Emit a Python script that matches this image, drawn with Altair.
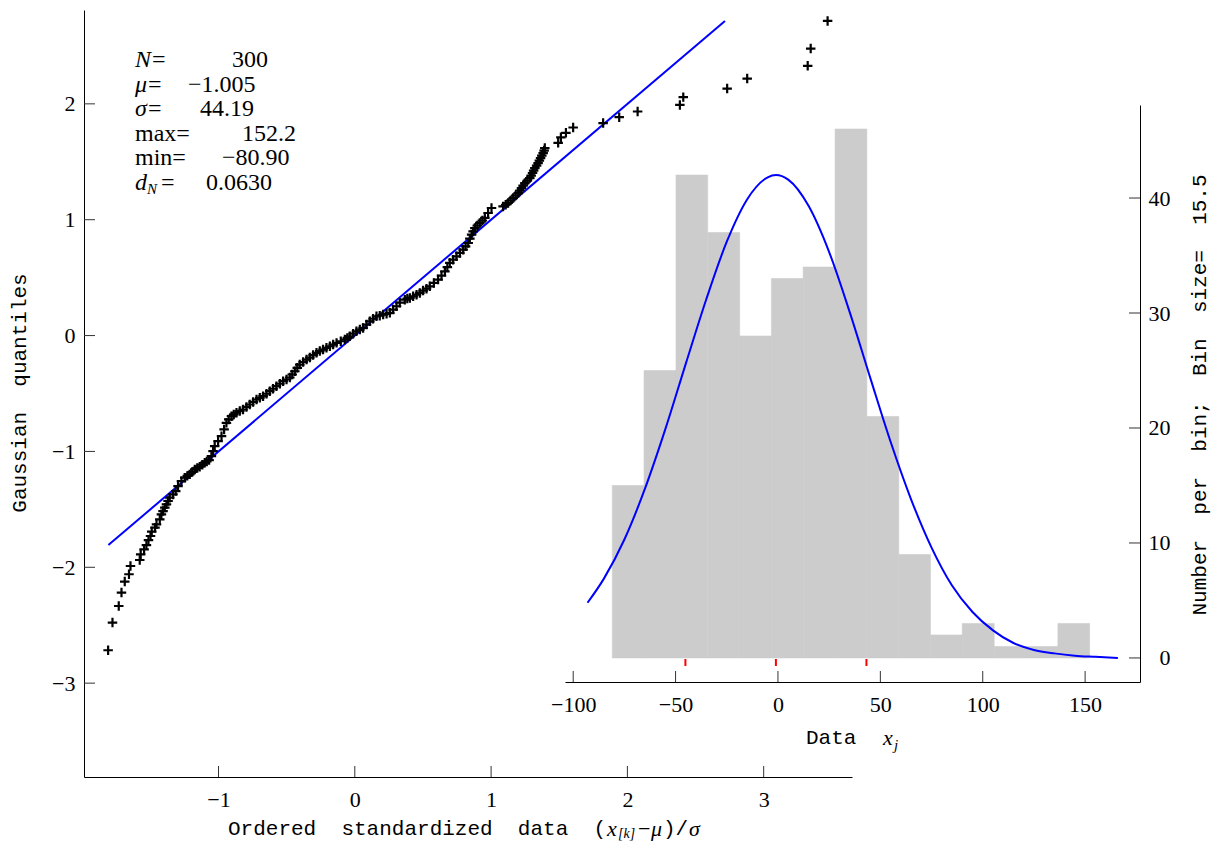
import altair as alt
import pandas as pd

# ---------------- data ----------------
# Q-Q plot: ordered standardized data (x) vs Gaussian quantiles (y)
qq_x = [-1.810, -1.778, -1.732, -1.712, -1.688, -1.657, -1.646, -1.578, -1.571, -1.546,
        -1.529, -1.514, -1.499, -1.490, -1.466, -1.455, -1.431, -1.419, -1.407, -1.394,
        -1.382, -1.370, -1.358, -1.334, -1.314, -1.297, -1.272, -1.248, -1.211, -1.174,
        -1.138, -1.101, -1.069, -1.052, -1.040, -1.028, -1.003, -0.978, -0.959, -0.942,
        -0.905, -0.868, -0.820, -0.771, -0.721, -0.673, -0.624, -0.575, -0.526, -0.477,
        -0.440, -0.404, -0.354, -0.281, -0.208, -0.134, -0.073, -0.037, 0.012, 0.061,
        0.110, 0.159, 0.208, 0.257, 0.306, 0.330, 0.367, 0.404, 0.477, 0.550,
        0.611, 0.661, 0.697, 0.746, 0.795, 0.832, 0.857, 0.881, 0.917, 0.954,
        0.978, 1.003, 1.088, 1.125, 1.162, 1.199, 1.223, 1.248, 1.284, 1.304,
        1.321, 1.345, 1.363, 1.382, 1.394, 1.492, 1.512, 1.549, 1.602, 1.822,
        1.940, 2.075, 2.385, 2.410, 2.732, 2.879, 3.323, 3.345, 3.469]
qq_y = [-2.716, -2.477, -2.334, -2.218, -2.123, -2.060, -1.989, -1.937, -1.888, -1.845,
        -1.808, -1.765, -1.730, -1.692, -1.658, -1.629, -1.586, -1.543, -1.515, -1.485,
        -1.457, -1.428, -1.399, -1.371, -1.342, -1.299, -1.256, -1.227, -1.198, -1.155,
        -1.132, -1.097, -1.075, -1.041, -0.997, -0.954, -0.911, -0.868, -0.810, -0.753,
        -0.696, -0.666, -0.638, -0.595, -0.552, -0.523, -0.480, -0.437, -0.394, -0.362,
        -0.308, -0.250, -0.207, -0.149, -0.106, -0.063, -0.034, -0.006, 0.037, 0.066,
        0.123, 0.166, 0.181, 0.196, 0.253, 0.284, 0.310, 0.325, 0.368, 0.425,
        0.483, 0.554, 0.627, 0.684, 0.741, 0.799, 0.871, 0.928, 0.972, 1.015,
        1.058, 1.101, 1.115, 1.144, 1.187, 1.230, 1.273, 1.316, 1.359, 1.403,
        1.446, 1.489, 1.532, 1.575, 1.618, 1.664, 1.711, 1.750, 1.796, 1.834,
        1.885, 1.934, 1.991, 2.058, 2.132, 2.218, 2.328, 2.477, 2.716]
# further readings along the dense part of the band
qq_x2 = [-1.229, -1.193, -1.156, -1.119, -1.086, -0.925, -0.888, -0.844, -0.795, -0.746,
         -0.697, -0.648, -0.600, -0.550, -0.501, -0.459, -0.422, -0.379, -0.330, -0.306,
         -0.257, -0.233, -0.183, -0.159, -0.103, -0.055, -0.012, 0.037, 0.086, 0.134,
         0.183, 0.233, 0.281, 0.385, 0.428, 0.453, 0.501, 0.526, 0.580, 0.636,
         0.679, 0.721, 0.771, 0.813, 0.844, 0.868, 0.899, 0.936, 1.107, 1.143,
         1.180, 1.211, 1.235, 1.266, 1.294, 1.312, 1.334, 1.354, 1.372, 1.389]
qq_y2 = [-1.211, -1.177, -1.142, -1.115, -1.086, -0.724, -0.681, -0.651, -0.616, -0.573,
         -0.537, -0.502, -0.459, -0.416, -0.379, -0.336, -0.278, -0.228, -0.190, -0.168,
         -0.134, -0.121, -0.092, -0.078, -0.049, -0.020, 0.016, 0.052, 0.095, 0.145,
         0.172, 0.188, 0.224, 0.319, 0.339, 0.353, 0.388, 0.405, 0.454, 0.517,
         0.591, 0.655, 0.713, 0.770, 0.836, 0.899, 0.950, 0.993, 1.129, 1.166,
         1.209, 1.252, 1.295, 1.338, 1.381, 1.424, 1.467, 1.510, 1.553, 1.597]
ref_x = [-1.808, 2.716]
ref_y = [-1.808, 2.716]
qq_xticks = [-1, 0, 1, 2, 3]
qq_yticks = [-3, -2, -1, 0, 1, 2]

# Histogram inset
bin_lo = [-80.9, -65.4, -49.8, -34.3, -18.7, -3.2, 12.3, 27.9, 43.4, 59.0, 74.5, 90.0, 105.6, 121.1, 136.7]
bin_hi = [-65.4, -49.8, -34.3, -18.7, -3.2, 12.3, 27.9, 43.4, 59.0, 74.5, 90.0, 105.6, 121.1, 136.7, 152.2]
counts = [15, 25, 42, 37, 28, 33, 34, 46, 21, 9, 2, 3, 1, 1, 3]
gauss_x = [-93, -85, -75, -65, -55, -45, -35, -25, -15, -5, -1, 5, 15, 25, 35, 45, 55,
           65, 75, 85, 95, 105, 115, 125, 135, 145, 155, 166]
gauss_y = [4.8, 6.9, 10.3, 14.7, 19.9, 25.6, 31.2, 36.2, 39.9, 41.8, 42.0, 41.6, 39.3,
           35.3, 30.1, 24.4, 18.8, 13.8, 9.6, 6.3, 4.0, 2.4, 1.3, 0.7, 0.4, 0.2, 0.1, 0.0]
sigma_marks = [-45.2, -1.005, 43.2]
hist_xticks = [-100, -50, 0, 50, 100, 150]
hist_yticks = [0, 10, 20, 30, 40]

# ---------------- layout ----------------
W, H = 1056, 767
SERIF = "Liberation Serif"
MONO = "Liberation Mono"
TICK = "#333333"
BLUE = "#0000ff"
SP = "\u00a0"

sx_main = alt.Scale(domain=[-1.987, 3.648], range=[0, 768], nice=False, zero=False)
sy_main = alt.Scale(domain=[-3.81, 2.81], range=[H, 0], nice=False, zero=False)
sx_in = alt.Scale(domain=[-104.0, 176.8], range=[481, W], nice=False, zero=False)
sy_in = alt.Scale(domain=[-2.09, 48.09], range=[672, 95], nice=False, zero=False)

def ax(orient, values, pad, **kw):
    return alt.Axis(orient=orient, values=values, ticks=False, tickSize=0, labelPadding=pad,
                    labelFont=SERIF, labelFontSize=22, labelColor="black",
                    domainColor="black", domainWidth=1, grid=False, title=None,
                    labelFlush=False, labelOverlap=False, **kw)

layers = []

# main Q-Q part
qq_df = pd.DataFrame({"x": qq_x + qq_x2, "y": qq_y + qq_y2})
ref_df = pd.DataFrame({"x": ref_x, "y": ref_y})
layers.append(alt.Chart(ref_df).mark_line(color=BLUE, strokeWidth=2).encode(
    x=alt.X("x:Q", scale=sx_main, axis=ax("bottom", qq_xticks, 12)),
    y=alt.Y("y:Q", scale=sy_main, axis=ax("left", qq_yticks, 9)),
))
layers.append(alt.Chart(qq_df).mark_point(
    shape="M-1,0L1,0M0,-1L0,1", filled=False, size=90, strokeWidth=2.2,
    color="black", opacity=1,
).encode(
    x=alt.X("x:Q", scale=sx_main, axis=None),
    y=alt.Y("y:Q", scale=sy_main, axis=None),
))
layers.append(alt.Chart(pd.DataFrame({"v": qq_yticks})).mark_rule(color=TICK, strokeWidth=1).encode(
    y=alt.Y("v:Q", scale=sy_main, axis=None), x=alt.value(0), x2=alt.value(11)))
layers.append(alt.Chart(pd.DataFrame({"v": qq_xticks})).mark_rule(color=TICK, strokeWidth=1).encode(
    x=alt.X("v:Q", scale=sx_main, axis=None), y=alt.value(H), y2=alt.value(H - 11)))

# inset histogram part
hist_df = pd.DataFrame({"lo": bin_lo, "hi": bin_hi, "n": counts})
layers.append(alt.Chart(hist_df).mark_rect(color="#cccccc", stroke="#cccccc", strokeWidth=0.6).encode(
    x=alt.X("lo:Q", scale=sx_in, axis=ax("bottom", hist_xticks, 12, offset=-95)),
    x2="hi:Q",
    y=alt.Y("n:Q", scale=sy_in, axis=ax("right", hist_yticks, 30, labelAlign="right")),
    y2=alt.datum(0),
))
layers.append(alt.Chart(pd.DataFrame({"gx": gauss_x, "gy": gauss_y})).mark_line(
    color=BLUE, strokeWidth=2, interpolate="monotone").encode(
    x=alt.X("gx:Q", scale=sx_in, axis=None),
    y=alt.Y("gy:Q", scale=sy_in, axis=None),
))
layers.append(alt.Chart(pd.DataFrame({"m": sigma_marks})).mark_rule(color="red", strokeWidth=2).encode(
    x=alt.X("m:Q", scale=sx_in, axis=None), y=alt.value(649), y2=alt.value(656)))
layers.append(alt.Chart(pd.DataFrame({"v": hist_xticks})).mark_rule(color=TICK, strokeWidth=1).encode(
    x=alt.X("v:Q", scale=sx_in, axis=None), y=alt.value(672), y2=alt.value(661)))
layers.append(alt.Chart(pd.DataFrame({"v": hist_yticks})).mark_rule(color=TICK, strokeWidth=1).encode(
    y=alt.Y("v:Q", scale=sy_in, axis=None), x=alt.value(W), x2=alt.value(W - 11)))

# text pieces (plot-relative pixel positions)
def txt(s, x, y, font=SERIF, size=22, style="normal", align="left", angle=0):
    return alt.Chart(pd.DataFrame({"t": [s]})).mark_text(
        font=font, fontSize=size, fontStyle=style, align=align, baseline="middle",
        angle=angle, color="black",
    ).encode(text="t:N", x=alt.value(x), y=alt.value(y))

# statistics block
LX, FS = 51, 24
rows = [50, 74.5, 99, 123.5, 148, 172.5]
layers += [txt("N", LX, rows[0], size=FS, style="italic"), txt("=", LX + 17, rows[0], size=FS),
           txt("300", 148, rows[0], size=FS)]
layers += [txt("μ", LX, rows[1], size=FS, style="italic"), txt("=", LX + 13, rows[1], size=FS),
           txt("−1.005", 104, rows[1], size=FS)]
layers += [txt("σ", LX, rows[2], size=FS, style="italic"), txt("=", LX + 13, rows[2], size=FS),
           txt("44.19", 116, rows[2], size=FS)]
layers += [txt("max=", LX, rows[3], size=FS), txt("152.2", 158, rows[3], size=FS)]
layers += [txt("min=", LX, rows[4], size=FS), txt("−80.90", 138, rows[4], size=FS)]
layers += [txt("d", LX, rows[5], size=FS, style="italic"),
           txt("N", LX + 12, rows[5] + 6, size=15, style="italic"),
           txt("=", LX + 26, rows[5], size=FS), txt("0.0630", 122, rows[5], size=FS)]

# axis titles
layers.append(txt(f"Gaussian{SP}{SP}quantiles", -64, 383, font=MONO, size=21,
                  align="center", angle=270))
layers.append(txt(f"Number{SP}{SP}per{SP}{SP}bin;{SP}{SP}Bin{SP}{SP}size={SP}{SP}15.5",
                  1116, 385, font=MONO, size=21, align="center", angle=270))
BX, BY = 144, 819
layers += [
    txt(f"Ordered{SP}{SP}standardized{SP}{SP}data{SP}{SP}(", BX, BY, font=MONO, size=21),
    txt("x", BX + 379, BY, size=22, style="italic"),
    txt("[k]", BX + 390, BY + 5, size=14, style="italic"),
    txt("−", BX + 410, BY, size=22),
    txt("μ", BX + 423, BY, size=22, style="italic"),
    txt(")/", BX + 435, BY, font=MONO, size=21),
    txt("σ", BX + 461, BY, size=22, style="italic"),
]
layers += [
    txt(f"Data{SP}{SP}", 722, 728, font=MONO, size=21),
    txt("x", 799, 728, size=22, style="italic"),
    txt("j", 810, 735, size=15, style="italic"),
]

chart = alt.layer(*layers).resolve_scale(
    x="independent", y="independent"
).properties(
    width=W, height=H,
    autosize=alt.AutoSizeParams(type="none"),
    padding={"left": 76, "top": 2, "right": 72, "bottom": 66},
).configure_view(stroke=None)

chart.save("out.html", embed_options={"renderer": "svg", "actions": False})
